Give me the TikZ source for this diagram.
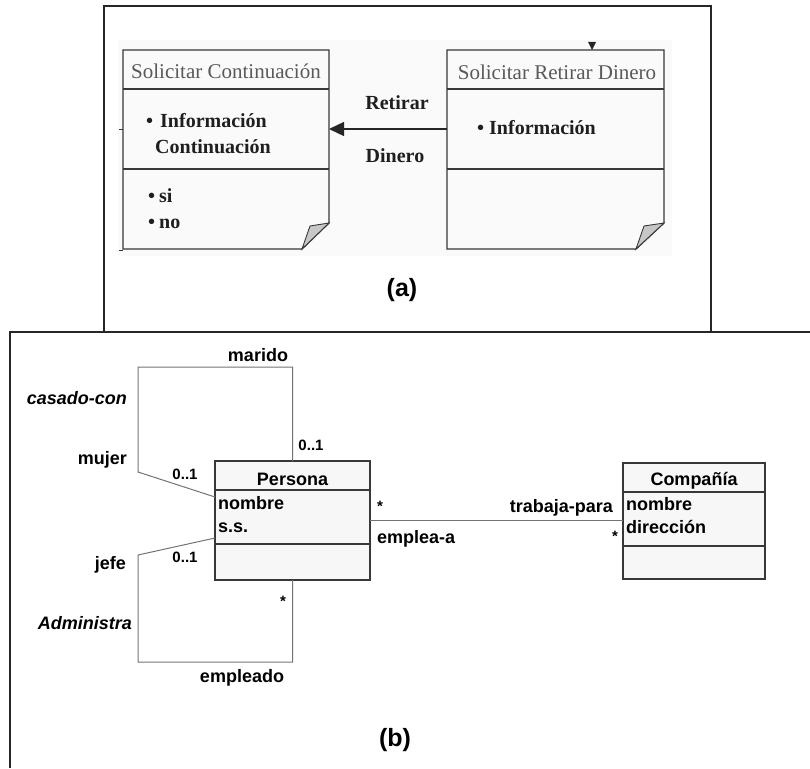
\documentclass[tikz,border=0pt]{standalone}
\usepackage{fontspec}
\setmainfont{Liberation Serif}
\setsansfont{Liberation Sans}
\usetikzlibrary{arrows.meta,calc}

\tikzset{
  panelframe/.style={draw=black!85, line width=1.6pt},
  sheetline/.style={draw=black!78, line width=1.3pt},
  flap/.style={fill=black!22, draw=black!78, line width=0.9pt},
  area/.style={draw=none, inner sep=0pt, outer sep=0pt},
  classbox/.style={draw=black!78, line width=1.2pt, fill=black!3, inner sep=0pt, outer sep=0pt},
  assoc/.style={draw=black!55, line width=1pt},
  msgarrow/.style={draw=black!85, line width=1.3pt, -{Triangle[length=15pt,width=14pt]}},
  sertitle/.style={font=\fontsize{21}{21}\selectfont, text=black!65, inner sep=0pt},
  serbold/.style={font=\bfseries\fontsize{20}{20}\selectfont, text=black!88, inner sep=0pt},
  lbl/.style={font=\sffamily\bfseries\fontsize{18}{18}\selectfont, inner sep=0pt},
  rolelbl/.style={font=\sffamily\bfseries\itshape\fontsize{18}{18}\selectfont, inner sep=0pt},
  mult/.style={font=\sffamily\bfseries\fontsize{15}{15}\selectfont, inner sep=0pt},
  caption/.style={font=\sffamily\bfseries\fontsize{25}{25}\selectfont, inner sep=0pt}
}

\begin{document}
\begin{tikzpicture}[x=1pt,y=-1pt]
\useasboundingbox (0,0) rectangle (810,768);

% ---------- panel (a): interface sheets ----------
\fill[black!2] (118,40) rectangle (672,256);

\node[area, minimum width=206pt, minimum height=199pt] (cont) at (226,149.5) {};
\node[area, minimum width=217pt, minimum height=199pt] (ret) at (555.5,149.5) {};

% sheet outlines with folded lower-right corner
\draw[sheetline] (cont.north west) -- (cont.north east) -- ($(cont.south east)+(0,-26)$)
  -- ($(cont.south east)+(-27,0)$) -- (cont.south west) -- cycle;
\draw[flap] ($(cont.south east)+(-27,0)$) -- ($(cont.south east)+(-19,-23)$) -- ($(cont.south east)+(0,-26)$) -- cycle;
\draw[sheetline] ($(cont.north west)+(0,39)$) -- ($(cont.north east)+(0,39)$);
\draw[sheetline] ($(cont.north west)+(0,119)$) -- ($(cont.north east)+(0,119)$);

\draw[sheetline] (ret.north west) -- (ret.north east) -- ($(ret.south east)+(0,-26)$)
  -- ($(ret.south east)+(-28,0)$) -- (ret.south west) -- cycle;
\draw[flap] ($(ret.south east)+(-28,0)$) -- ($(ret.south east)+(-20,-23)$) -- ($(ret.south east)+(0,-26)$) -- cycle;
\draw[sheetline] ($(ret.north west)+(0,39)$) -- ($(ret.north east)+(0,39)$);
\draw[sheetline] ($(ret.north west)+(0,119)$) -- ($(ret.north east)+(0,119)$);

% small stubs at the sheet edges
\coordinate (stubA) at (119,129);
\coordinate (stubB) at (119,250);
\draw[sheetline, line width=1pt] (stubA) -- (stubA -| cont.west);
\draw[sheetline, line width=1pt] (stubB) -- (stubB -| cont.west);
\coordinate (mark) at (592,50);
\fill[black!85] ($(mark)+(-4,-8)$) -- ($(mark)+(4,-8)$) -- (mark) -- cycle;

% sheet texts
\node[sertitle, anchor=base] (contT) at (226,78) {Solicitar Continuación};
\node[serbold, anchor=base west] (contI1) at (146,127) {\textbullet\hspace{7pt}Información};
\node[serbold, anchor=base west] (contI2) at (155,153) {Continuación};
\node[serbold, anchor=base west] (contS) at (148,202) {\textbullet\hspace{4pt}si};
\node[serbold, anchor=base west] (contN) at (148,228) {\textbullet\hspace{4pt}no};

\node[sertitle, anchor=base] (retT) at (557,79) {Solicitar Retirar Dinero};
\node[serbold, anchor=base west] (retI) at (477,134) {\textbullet\hspace{5pt}Información};

% message between the sheets
\draw[msgarrow] ($(ret.north west)+(0,79)$) -- ($(cont.north east)+(0,79)$);
\node[serbold, anchor=base] (msg1) at (397,109) {Retirar};
\node[serbold, anchor=base] (msg2) at (395,162) {Dinero};

\node[caption] (capA) at (402,290) {(a)};

% ---------- panel (b): class diagram ----------
\node[classbox, minimum width=155pt, minimum height=119pt] (persona) at (292.5,520.5) {};
\draw[classbox, fill=none] ($(persona.north west)+(0,29)$) -- ($(persona.north east)+(0,29)$);
\draw[classbox, fill=none] ($(persona.north west)+(0,83)$) -- ($(persona.north east)+(0,83)$);
\node[lbl, anchor=base] (personaT) at (292.5,485) {Persona};
\node[lbl, anchor=base west] (personaA1) at (218,509) {nombre};
\node[lbl, anchor=base west] (personaA2) at (218,532) {s.s.};

\node[classbox, minimum width=142pt, minimum height=116pt] (comp) at (694,521) {};
\draw[classbox, fill=none] ($(comp.north west)+(0,29)$) -- ($(comp.north east)+(0,29)$);
\draw[classbox, fill=none] ($(comp.north west)+(0,83)$) -- ($(comp.north east)+(0,83)$);
\node[lbl, anchor=base] (compT) at (694,485) {Compañía};
\node[lbl, anchor=base west] (compA1) at (626,510) {nombre};
\node[lbl, anchor=base west] (compA2) at (626,533) {dirección};

% association Persona -- Compañía
\draw[assoc] (persona.east) -- (persona.east -| comp.west);
\node[mult, anchor=base] (m1) at (380,511) {*};
\node[lbl, anchor=base west] (empleaA) at (377,543) {emplea-a};
\node[lbl, anchor=base east] (trabaja) at (613,512) {trabaja-para};
\node[mult, anchor=base] (m2) at (615,541) {*};

% reflexive association casado-con
\coordinate (c1) at (292.5,367);
\coordinate (c2) at (138,367);
\coordinate (c3) at (138,472);
\draw[assoc] (persona.north) -- (c1) -- (c2) -- (c3) -- ($(persona.north west)+(0,36)$);
\node[lbl, anchor=base] (marido) at (258,361) {marido};
\node[rolelbl, anchor=base east] (casado) at (127,404) {casado-con};
\node[lbl, anchor=base east] (mujer) at (127,464) {mujer};
\node[mult, anchor=base] (m3) at (311,450) {0..1};
\node[mult, anchor=base] (m4) at (185,479) {0..1};

% reflexive association Administra
\coordinate (d1) at (138,555);
\coordinate (d2) at (138,662);
\coordinate (d3) at (292.5,662);
\draw[assoc] ($(persona.north west)+(0,77)$) -- (d1) -- (d2) -- (d3) -- (persona.south);
\node[lbl, anchor=base east] (jefe) at (126,569) {jefe};
\node[mult, anchor=base] (m5) at (185,562) {0..1};
\node[mult, anchor=base] (m6) at (283,606) {*};
\node[rolelbl, anchor=base east] (admin) at (132,629) {Administra};
\node[lbl, anchor=base] (empleado) at (242,682) {empleado};

\node[caption] (capB) at (395,740) {(b)};

% ---------- panel frames ----------
\coordinate (fa1) at (104,6);
\coordinate (fa2) at (711,332);
\draw[panelframe] (fa1) rectangle (fa2);
\coordinate (fb1) at (10,768);
\coordinate (fb2) at (10,332);
\coordinate (fb3) at (810,332);
\draw[panelframe] (fb1) -- (fb2) -- (fb3);
\end{tikzpicture}
\end{document}
